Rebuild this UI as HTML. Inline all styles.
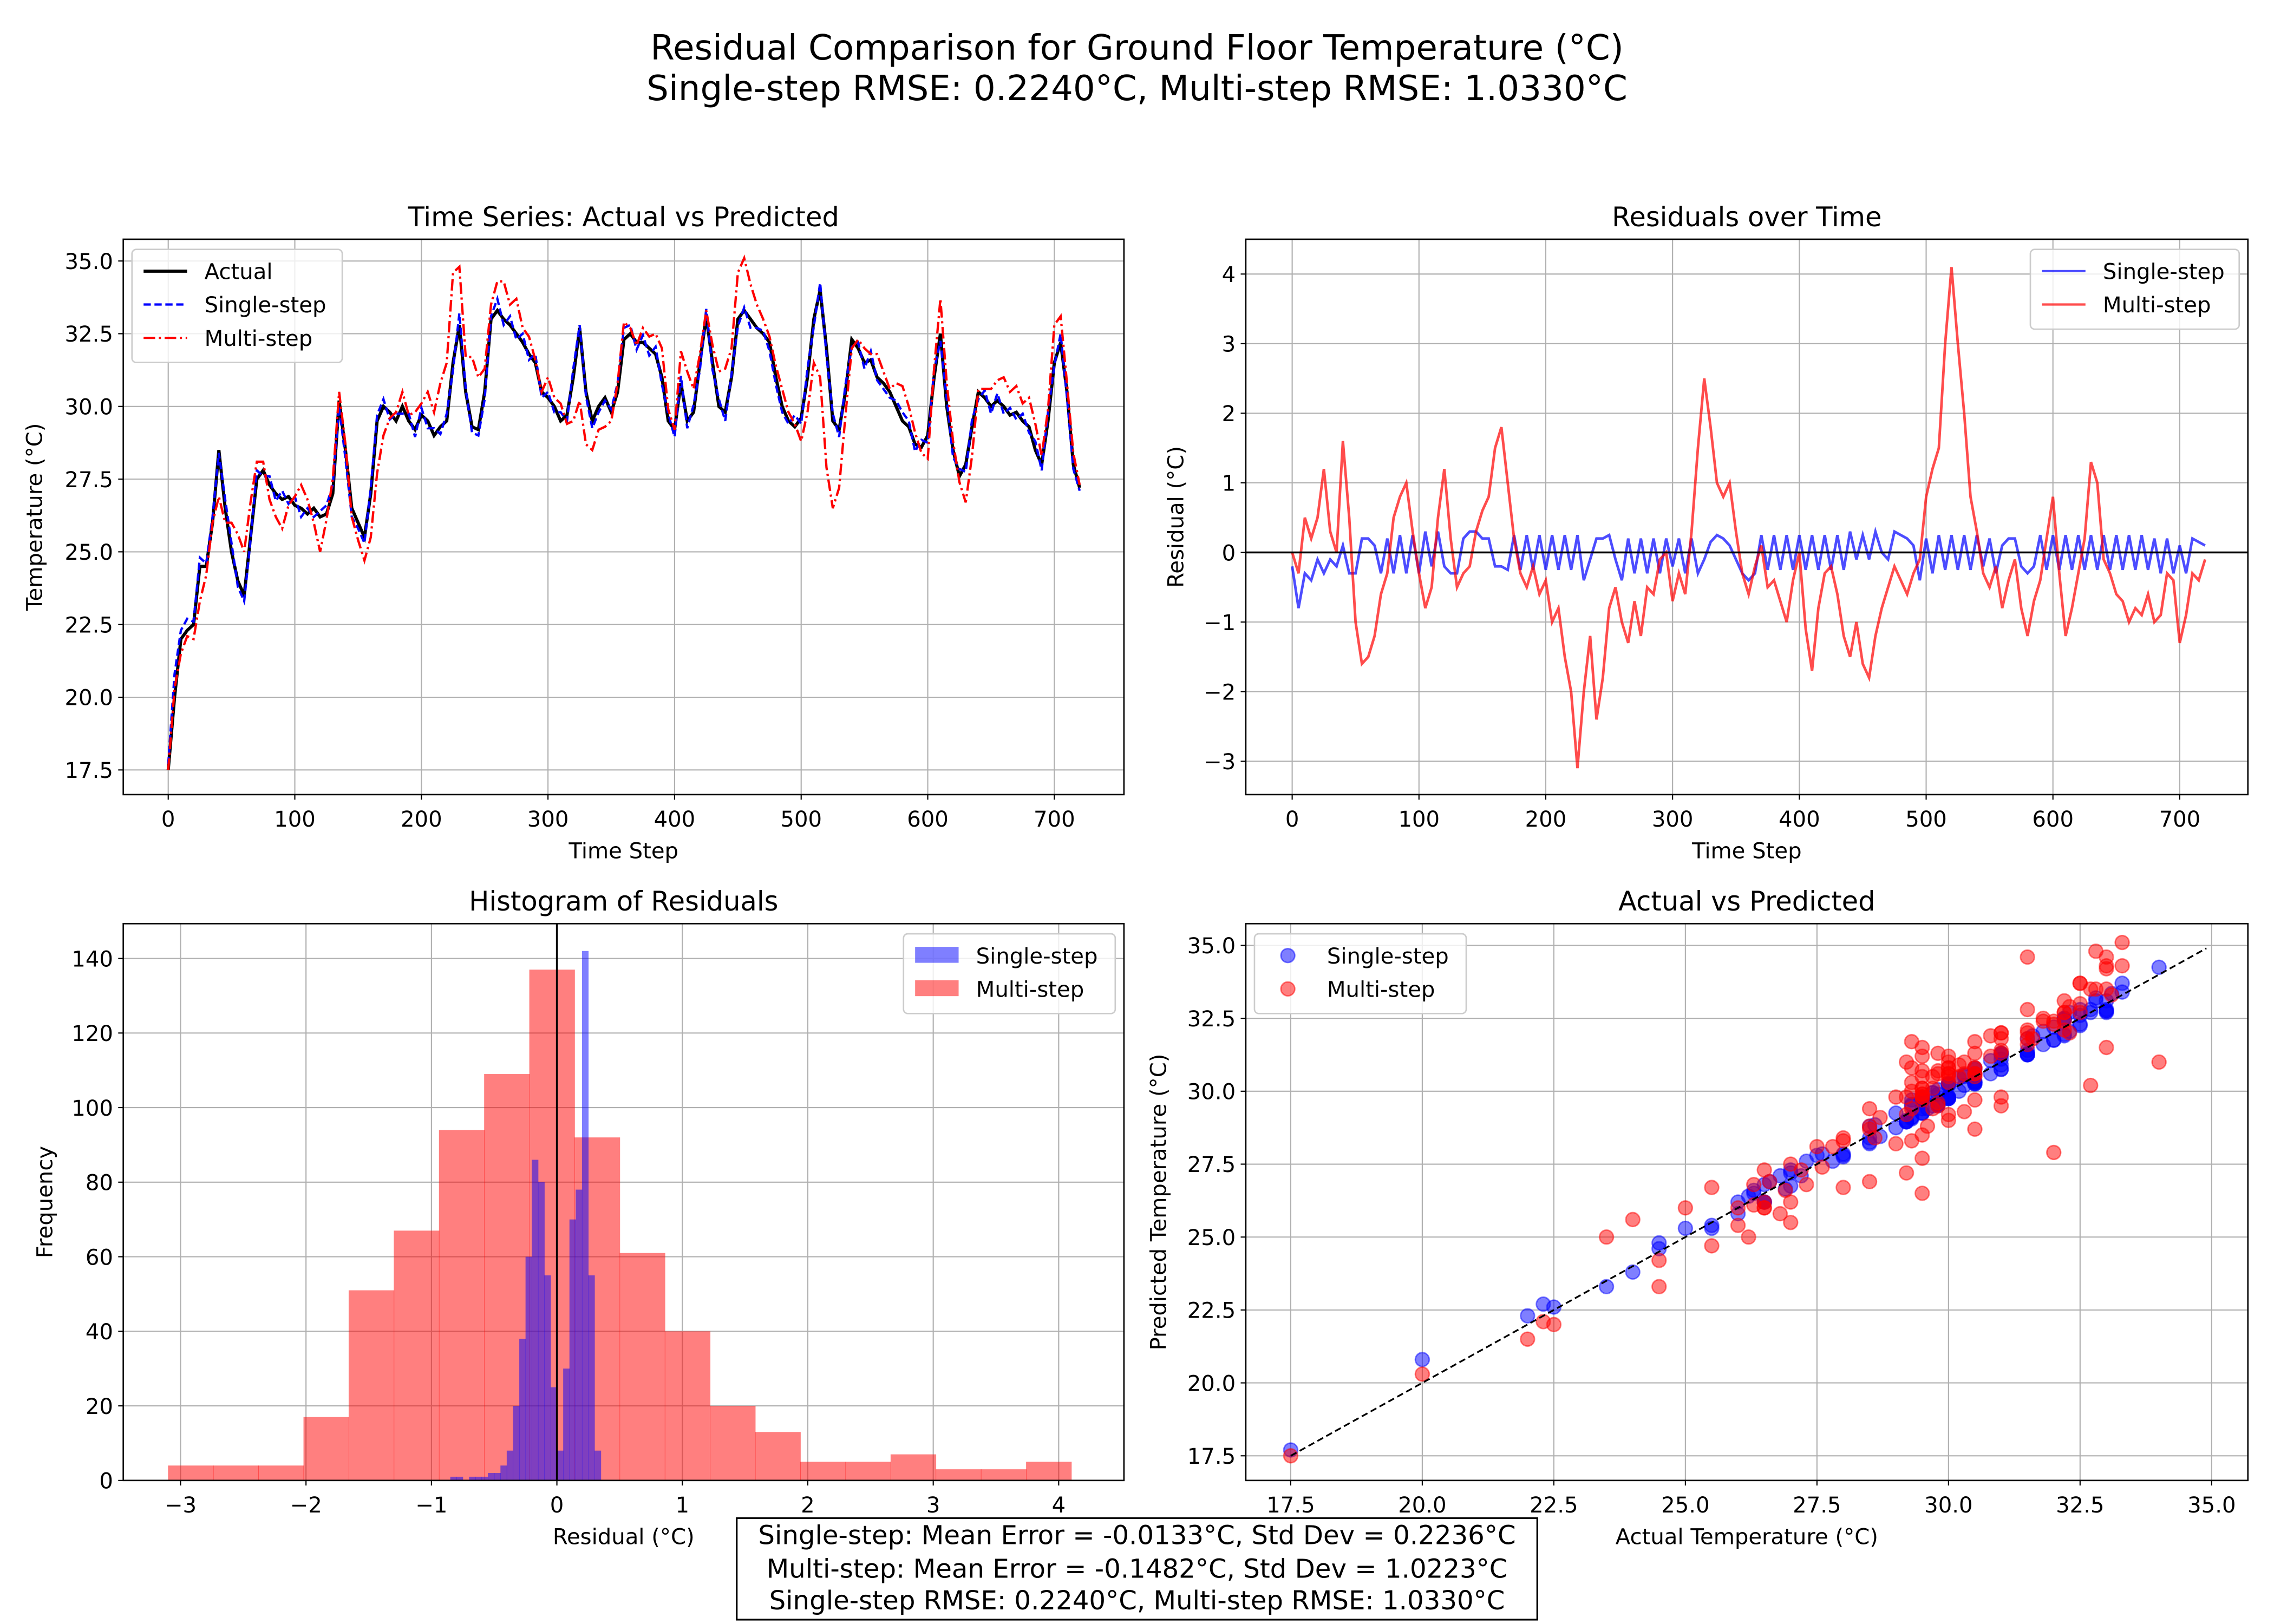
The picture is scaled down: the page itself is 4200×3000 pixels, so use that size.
<!DOCTYPE html>
<html><head><meta charset="utf-8">
<style>
html,body{margin:0;padding:0;background:#fff;}
svg{display:block;font-family:"DejaVu Sans","Liberation Sans",sans-serif;}
</style></head>
<body>
<svg id="fig" width="4200" height="3000" viewBox="0 0 1568 1120" xmlns="http://www.w3.org/2000/svg">
<rect width="1568" height="1120" fill="#fff"/>
<text x="784" y="41" font-size="24" text-anchor="middle">Residual Comparison for Ground Floor Temperature (°C)</text>
<text x="784" y="69" font-size="24" text-anchor="middle">Single-step RMSE: 0.2240°C, Multi-step RMSE: 1.0330°C</text>
<g id="g1"></g>
<g id="g2"></g>
<g id="g3"></g>
<g id="g4"></g>
<g>
<rect x="508" y="1047" width="552" height="70" fill="#fff" stroke="#000" stroke-width="1.2"/>
<text x="784" y="1065" font-size="18" text-anchor="middle">Single-step: Mean Error = -0.0133°C, Std Dev = 0.2236°C</text>
<text x="784" y="1088" font-size="18" text-anchor="middle">Multi-step: Mean Error = -0.1482°C, Std Dev = 1.0223°C</text>
<text x="784" y="1110" font-size="18" text-anchor="middle">Single-step RMSE: 0.2240°C, Multi-step RMSE: 1.0330°C</text>
</g>
</svg>
<script>
const timeStep = 5;
const actualTemp = [17.5,20,22,22.3,22.5,24.5,24.5,26,28.5,26.5,25,24,23.5,25.5,27.5,27.8,27.3,27,26.8,26.9,26.6,26.5,26.3,26.5,26.2,26.3,27,30.2,28.5,26.5,26,25.5,27,29.5,30,29.8,29.5,30,29.5,29.2,29.7,29.5,29,29.3,29.5,31.5,32.8,30.5,29.3,29.2,30.5,33,33.3,33,32.8,32.5,32.2,31.8,31.5,30.5,30.3,30,29.5,29.7,31,32.7,30.5,29.5,30,30.3,29.8,30.5,32.3,32.5,32.2,32.2,32,31.8,31,29.5,29.2,30.8,29.5,29.8,31.5,33.1,31.5,30,29.8,31,33,33.3,33,32.7,32.5,32.2,31,30,29.5,29.3,29.6,31,33,34,32,29.5,29.2,30.5,32.3,32,31.5,31.6,31,30.8,30.5,30,29.5,29.3,28.7,28.6,29,31,32.5,30,28.5,27.6,28,29.3,30.5,30.3,30,30.2,30,29.7,29.8,29.5,29.3,28.5,28,29.5,31.5,32.2,30.5,28,27.2];
const residMulti = [0,-0.3,0.5,0.2,0.5,1.2,0.3,0,1.6,0.5,-1,-1.6,-1.5,-1.2,-0.6,-0.3,0.5,0.8,1.0,0.3,-0.3,-0.8,-0.5,0.5,1.2,0.2,-0.5,-0.3,-0.2,0.3,0.6,0.8,1.5,1.8,1.0,0.2,-0.3,-0.5,-0.2,-0.6,-0.4,-1.0,-0.8,-1.5,-2.0,-3.1,-2.0,-1.2,-2.4,-1.8,-0.8,-0.5,-1.0,-1.3,-0.7,-1.2,-0.5,-0.6,-0.1,0,-0.7,-0.3,-0.6,0.3,1.5,2.5,1.8,1.0,0.8,1.0,0.3,-0.3,-0.6,-0.2,0.1,-0.5,-0.4,-0.7,-1.0,-0.4,0,-1.1,-1.7,-0.8,-0.3,-0.2,-0.6,-1.2,-1.5,-1.0,-1.6,-1.8,-1.2,-0.8,-0.5,-0.2,-0.4,-0.6,-0.3,-0.1,0.8,1.2,1.5,3.0,4.1,3.0,2.0,0.8,0.3,-0.3,-0.5,-0.2,-0.8,-0.4,-0.1,-0.8,-1.2,-0.7,-0.4,0.2,0.8,-0.3,-1.2,-0.8,-0.3,0.2,1.3,1.0,-0.1,-0.3,-0.6,-0.7,-1.0,-0.8,-0.9,-0.6,-1.0,-0.9,-0.3,-0.4,-1.3,-0.9,-0.3,-0.4,-0.1];
const residSingle = [-0.2,-0.8,-0.3,-0.4,-0.1,-0.3,-0.1,-0.2,0.1,-0.3,-0.3,0.2,0.2,0.1,-0.3,0.2,-0.3,0.25,-0.3,0.25,-0.3,0.3,-0.2,0.3,-0.2,-0.3,-0.3,0.2,0.3,0.3,0.2,0.2,-0.2,-0.2,-0.25,0.25,-0.25,0.25,-0.25,0.25,-0.25,0.25,-0.25,0.25,-0.25,0.25,-0.4,-0.1,0.2,0.2,0.25,-0.1,-0.4,0.2,-0.3,0.2,-0.3,0.2,-0.3,0.2,-0.2,0.2,-0.3,0.2,-0.3,-0.1,0.15,0.25,0.2,0.1,-0.1,-0.3,-0.4,-0.3,0.25,-0.25,0.25,-0.25,0.25,-0.25,0.25,-0.25,0.25,-0.25,0.25,-0.25,0.25,-0.25,0.3,-0.1,0.25,-0.1,0.3,0,-0.1,0.3,0.25,0.2,0.1,-0.4,0.2,-0.3,0.25,-0.25,0.25,-0.25,0.25,-0.25,0.25,-0.2,0.2,-0.3,0.1,0.2,0.2,-0.2,-0.3,-0.2,0.25,-0.25,0.25,-0.25,0.25,-0.25,0.25,-0.25,0.25,-0.25,0.25,-0.25,0.25,-0.25,0.25,-0.25,0.25,-0.25,0.2,-0.3,0.2,-0.3,0.1,-0.3,0.2,0.15,0.1];
const histMultiStart = -3.1, histMultiWidth = 0.36;
const histMultiCounts = [4,4,4,17,51,67,94,109,137,92,61,40,20,13,5,5,7,3,3,5];
const histSingleStart = -0.85, histSingleWidth = 0.05;
const histSingleCounts = [1,1,0,1,1,1,2,2,4,8,20,38,60,86,80,55,25,8,30,70,78,142,55,8];
const ts_xticks = [0,100,200,300,400,500,600,700];
const ts_yticks = [17.5,20.0,22.5,25.0,27.5,30.0,32.5,35.0];
const res_yticks = [-3,-2,-1,0,1,2,3,4];
const hist_xticks = [-3,-2,-1,0,1,2,3,4];
const hist_yticks = [0,20,40,60,80,100,120,140];
const sc_ticks = [17.5,20.0,22.5,25.0,27.5,30.0,32.5,35.0];

const NS="http://www.w3.org/2000/svg";
function mk(parent,tag,attrs,txt){const e=document.createElementNS(NS,tag);for(const k in attrs)e.setAttribute(k,attrs[k]);if(txt!==undefined)e.textContent=txt;parent.appendChild(e);return e;}
function lin(d0,d1,p0,p1){return v=>p0+(v-d0)*(p1-p0)/(d1-d0);}
function fmt(v,dec){const s=v.toFixed(dec);return s.startsWith('-')?'\u2212'+s.slice(1):s;}

function axes(g,box,sx,sy,xt,yt,xdec,ydec,title,xl,yl,ylx){
  const [x0,y0,x1,y1]=box;
  const grid=mk(g,'g',{});
  
  
  xt.forEach(v=>{const x=sx(v);mk(grid,'line',{x1:x,x2:x,y1:y0,y2:y1,stroke:'#b0b0b0','stroke-width':0.8});
    mk(g,'line',{x1:x,x2:x,y1:y1,y2:y1+3.5,stroke:'#000','stroke-width':0.8});
    const t=mk(g,'text',{x:x,y:y1+22,'font-size':15,'text-anchor':'middle'},fmt(v,xdec));
    
    });
  yt.forEach(v=>{const y=sy(v);mk(grid,'line',{x1:x0,x2:x1,y1:y,y2:y,stroke:'#b0b0b0','stroke-width':0.8});
    mk(g,'line',{x1:x0-3.5,x2:x0,y1:y,y2:y,stroke:'#000','stroke-width':0.8});
    const t=mk(g,'text',{x:x0-7,y:y+5.5,'font-size':15,'text-anchor':'end'},fmt(v,ydec));
    
    });
  const tt=mk(g,'text',{x:(x0+x1)/2,y:y0-9,'font-size':18.5,'text-anchor':'middle'},title);
  
  
  const xa=mk(g,'text',{x:(x0+x1)/2,y:y1+44,'font-size':15,'text-anchor':'middle'},xl);
  
  
  const ya=mk(g,'text',{x:0,y:0,'font-size':15,'text-anchor':'middle',transform:'translate('+ylx+','+((y0+y1)/2)+') rotate(-90)'},yl);
  
  
}
function frame(g,box){const [x0,y0,x1,y1]=box;const r=mk(g,'rect',{x:x0,y:y0,width:x1-x0,height:y1-y0,fill:'none',stroke:'#000','stroke-width':1});
  
  }
function clip(id,box){const d=mk(document.getElementById('fig'),'clipPath',{id:id});mk(d,'rect',{x:box[0],y:box[1],width:box[2]-box[0],height:box[3]-box[1]});}
function path(g,xs,ys,sx,sy,attrs){let d='';xs.forEach((x,i)=>{d+=(i?'L':'M')+sx(x).toFixed(2)+','+sy(ys[i]).toFixed(2);});attrs.d=d;attrs.fill='none';return mk(g,'path',attrs);}
function legend(g,x,y,w,items){
  const lg=mk(g,'g',{});
  
  
  mk(lg,'rect',{x:x,y:y,width:w,height:items.length*23+9,rx:3,fill:'#fff','fill-opacity':0.8,stroke:'#ccc','stroke-width':1});
  items.forEach((it,i)=>{const cy=y+15+i*23;
    const e=mk(lg,'g',{});
    
    
    it.draw(e,x+8,cy);
    mk(e,'text',{x:x+50,y:cy+5.5,'font-size':15},it.label);});
}

const times=actualTemp.map((_,i)=>i*timeStep);
const singlePred=actualTemp.map((a,i)=>a-residSingle[i]);
const multiPred=actualTemp.map((a,i)=>a-residMulti[i]);

(function(){
  const g=document.getElementById('g1');const box=[85,165,775,548];
  const sx=lin(0,700,116,727), sy=lin(17.5,35,531,180);
  axes(g,box,sx,sy,ts_xticks,ts_yticks,0,1,'Time Series: Actual vs Predicted','Time Step','Temperature (°C)',29);
  clip('c1',box);const pg=mk(g,'g',{'clip-path':'url(#c1)'});
  const a=path(pg,times,actualTemp,sx,sy,{stroke:'#000','stroke-width':2.2});
  
  
  const s=path(pg,times,singlePred,sx,sy,{stroke:'#0000ff','stroke-width':1.6,'stroke-dasharray':'5,2.5'});
  
  
  const m=path(pg,times,multiPred,sx,sy,{stroke:'#ff0000','stroke-width':1.6,'stroke-dasharray':'8,2.5,1.5,2.5'});
  
  
  frame(g,box);
  legend(g,91,172,145,[
    {label:'Actual',draw:(e,x,y)=>mk(e,'line',{x1:x,x2:x+30,y1:y,y2:y,stroke:'#000','stroke-width':2.2})},
    {label:'Single-step',draw:(e,x,y)=>mk(e,'line',{x1:x,x2:x+30,y1:y,y2:y,stroke:'#00f','stroke-width':1.6,'stroke-dasharray':'5,2.5'})},
    {label:'Multi-step',draw:(e,x,y)=>mk(e,'line',{x1:x,x2:x+30,y1:y,y2:y,stroke:'#f00','stroke-width':1.6,'stroke-dasharray':'8,2.5,1.5,2.5'})}]);
})();

(function(){
  const g=document.getElementById('g2');const box=[859,165,1550,548];
  const sx=lin(0,700,891,1503), sy=lin(0,4,381,189);
  axes(g,box,sx,sy,ts_xticks,res_yticks,0,0,'Residuals over Time','Time Step','Residual (°C)',816);
  clip('c2',box);const pg=mk(g,'g',{'clip-path':'url(#c2)'});
  const s=path(pg,times,residSingle,sx,sy,{stroke:'#0000ff','stroke-opacity':0.7,'stroke-width':1.8});
  
  
  const m=path(pg,times,residMulti,sx,sy,{stroke:'#ff0000','stroke-opacity':0.7,'stroke-width':1.8});
  
  
  const z=mk(pg,'line',{x1:859,x2:1550,y1:sy(0),y2:sy(0),stroke:'#000','stroke-width':1.3});
  
  
  frame(g,box);
  legend(g,1400,172,144,[
    {label:'Single-step',draw:(e,x,y)=>mk(e,'line',{x1:x,x2:x+30,y1:y,y2:y,stroke:'#00f','stroke-opacity':0.7,'stroke-width':1.6})},
    {label:'Multi-step',draw:(e,x,y)=>mk(e,'line',{x1:x,x2:x+30,y1:y,y2:y,stroke:'#f00','stroke-opacity':0.7,'stroke-width':1.6})}]);
})();

(function(){
  const g=document.getElementById('g3');const box=[85,637,775,1021];
  const sx=lin(0,4,384,730), sy=lin(0,140,1021,661);
  axes(g,box,sx,sy,hist_xticks,hist_yticks,0,0,'Histogram of Residuals','Residual (°C)','Frequency',36);
  clip('c3',box);const pg=mk(g,'g',{'clip-path':'url(#c3)'});
  histMultiCounts.forEach((c,i)=>{const a=histMultiStart+i*histMultiWidth;
    const r=mk(pg,'rect',{x:sx(a),y:sy(c),width:sx(a+histMultiWidth)-sx(a)+0.3,height:sy(0)-sy(c),fill:'#ff0000','fill-opacity':0.5});
    
    });
  histSingleCounts.forEach((c,i)=>{const a=histSingleStart+i*histSingleWidth;
    const r=mk(pg,'rect',{x:sx(a),y:sy(c),width:sx(a+histSingleWidth)-sx(a)+0.2,height:sy(0)-sy(c),fill:'#0000ff','fill-opacity':0.5});
    
    });
  const z=mk(pg,'line',{x1:sx(0),x2:sx(0),y1:637,y2:1021,stroke:'#000','stroke-width':1.3});
  
  
  frame(g,box);
  legend(g,623,644,146,[
    {label:'Single-step',draw:(e,x,y)=>mk(e,'rect',{x:x,y:y-6,width:30,height:11,fill:'#00f','fill-opacity':0.5})},
    {label:'Multi-step',draw:(e,x,y)=>mk(e,'rect',{x:x,y:y-6,width:30,height:11,fill:'#f00','fill-opacity':0.5})}]);
})();

(function(){
  const g=document.getElementById('g4');const box=[859,637,1550,1021];
  const sx=lin(17.5,35,890,1525), sy=lin(17.5,35,1004,652);
  axes(g,box,sx,sy,sc_ticks,sc_ticks,1,1,'Actual vs Predicted','Actual Temperature (°C)','Predicted Temperature (°C)',804);
  clip('c4',box);const pg=mk(g,'g',{'clip-path':'url(#c4)'});
  actualTemp.forEach((a,i)=>{const c=mk(pg,'circle',{cx:sx(a),cy:sy(singlePred[i]),r:4.8,fill:'#0000ff','fill-opacity':0.5,stroke:'#0000ff','stroke-opacity':0.5,'stroke-width':1});
    
    });
  actualTemp.forEach((a,i)=>{const c=mk(pg,'circle',{cx:sx(a),cy:sy(multiPred[i]),r:4.8,fill:'#ff0000','fill-opacity':0.5,stroke:'#ff0000','stroke-opacity':0.5,'stroke-width':1});
    
    });
  const lo=Math.min(...actualTemp), hi=34.9;
  const d=mk(pg,'line',{x1:sx(lo),y1:sy(lo),x2:sx(hi),y2:sy(hi),stroke:'#000','stroke-width':1.2,'stroke-dasharray':'4.5,2.5'});
  
  
  frame(g,box);
  legend(g,865,644,146,[
    {label:'Single-step',draw:(e,x,y)=>mk(e,'circle',{cx:x+15,cy:y,r:4.8,fill:'#00f','fill-opacity':0.5,stroke:'#00f','stroke-opacity':0.5})},
    {label:'Multi-step',draw:(e,x,y)=>mk(e,'circle',{cx:x+15,cy:y,r:4.8,fill:'#f00','fill-opacity':0.5,stroke:'#f00','stroke-opacity':0.5})}]);
})();
</script>
</body></html>
